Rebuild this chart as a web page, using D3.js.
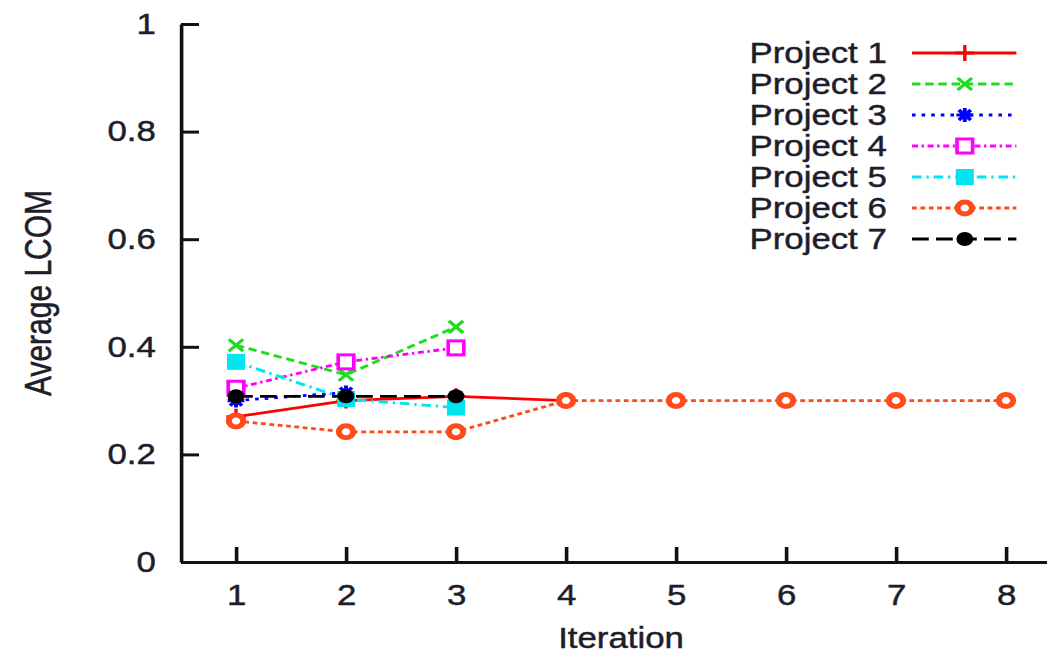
<!DOCTYPE html>
<html>
<head>
<meta charset="utf-8">
<script src="https://cdn.jsdelivr.net/npm/d3@7"></script>
<style>
  html, body { margin: 0; padding: 0; background: #fff; }
  svg { display: block; }
  text { font-family: "Liberation Sans", Arial, Helvetica, sans-serif; fill: #1d1d2b; stroke: #1d1d2b; stroke-width: 0.45px; }
</style>
</head>
<body>
<svg id="chart" width="1047" height="654"></svg>
<script>
// Average LCOM per iteration for each project
const iterations = [1, 2, 3, 4, 5, 6, 7, 8];
const projectNames = ["Project 1", "Project 2", "Project 3", "Project 4", "Project 5", "Project 6", "Project 7"];
const project1 = [0.27, 0.30, 0.308, 0.30];
const project2 = [0.403, 0.348, 0.437];
const project3 = [0.30, 0.315];
const project4 = [0.323, 0.372, 0.398];
const project5 = [0.372, 0.303, 0.287];
const project6 = [0.262, 0.242, 0.242, 0.30, 0.30, 0.30, 0.30, 0.30];
const project7 = [0.308, 0.308, 0.308];
const yTicks = [0, 0.2, 0.4, 0.6, 0.8, 1];
const yTickLabels = ["0", "0.2", "0.4", "0.6", "0.8", "1"];
const xLabel = "Iteration";
const yLabel = "Average LCOM";

const seriesValues = [project1, project2, project3, project4, project5, project6, project7];
const colors = ["#ff0000", "#1fdc1f", "#0000ff", "#ff00ff", "#00e5ee", "#ff4a1a", "#000000"];
const dashes = [null, "7,4", "3,5", "5,3,2,3", "8,4,2,4", "4,3", "14,6"];
const symbols = ["plus", "cross", "star", "openSquare", "filledSquare", "openCircle", "filledCircle"];

// The figure is laid out at a 4:3 base width and stretched horizontally.
const stretch = 1.2;
const svg = d3.select("#chart");
const root = svg.append("g").attr("transform", `scale(${stretch},1)`);

const x = d3.scaleLinear().domain([0.5, 8.5]).range([181 / stretch, 1061 / stretch]);
const y = d3.scaleLinear().domain([0, 1]).range([562, 24]);

// Axes (left and bottom border only, ticks pointing inward)
const yAxis = d3.axisLeft(y).tickValues(yTicks)
  .tickFormat((d, i) => yTickLabels[i]).tickSize(-15).tickSizeOuter(0).tickPadding(21);
const xAxis = d3.axisBottom(x).tickValues(iterations)
  .tickFormat(d3.format("d")).tickSize(-15).tickSizeOuter(0).tickPadding(22);

const gx = root.append("g").attr("transform", `translate(0,${y(0)})`).call(xAxis);
const gy = root.append("g").attr("transform", `translate(${x(0.5)},0)`).call(yAxis);
[gx, gy].forEach(g => {
  g.selectAll("path.domain").attr("stroke", "#111").attr("stroke-width", 3);
  g.selectAll(".tick line").attr("stroke", "#111").attr("stroke-width", 3);
  g.selectAll(".tick text").style("font-size", "29px").attr("fill", "#1d1d2b");
});

root.append("text")
  .attr("x", x(4.5)).attr("y", 648)
  .attr("text-anchor", "middle").style("font-size", "29px")
  .text(xLabel);
root.append("text")
  .attr("transform", `translate(${38 / stretch},${(y(0) + y(1)) / 2}) rotate(-90)`)
  .attr("text-anchor", "middle").attr("dy", "0.35em").style("font-size", "30px")
  .text(yLabel);

// Point symbols
function drawSymbol(g, kind, cx, cy, color) {
  const s = g.append("g").attr("transform", `translate(${cx},${cy})`);
  const sw = 2.8;
  if (kind === "plus") {
    s.append("path").attr("d", "M-8,0H8M0,-8V8").attr("stroke", color).attr("stroke-width", sw).attr("fill", "none");
  } else if (kind === "cross") {
    s.append("path").attr("d", "M-6,-6L6,6M-6,6L6,-6").attr("stroke", color).attr("stroke-width", 3).attr("fill", "none");
  } else if (kind === "star") {
    s.append("path").attr("d", "M-7,0H7M0,-7V7M-5,-5L5,5M-5,5L5,-5").attr("stroke", color).attr("stroke-width", 3.2).attr("fill", "none");
    s.append("rect").attr("x", -4).attr("y", -4).attr("width", 8).attr("height", 8).attr("fill", color);
  } else if (kind === "openSquare") {
    s.append("rect").attr("x", -6.5).attr("y", -7).attr("width", 13).attr("height", 14)
      .attr("fill", "#fff").attr("stroke", color).attr("stroke-width", 3);
  } else if (kind === "filledSquare") {
    s.append("rect").attr("x", -7.5).attr("y", -8).attr("width", 15).attr("height", 16).attr("fill", color);
  } else if (kind === "openCircle") {
    s.append("circle").attr("r", 6).attr("fill", "#fff").attr("stroke", color).attr("stroke-width", 5);
  } else if (kind === "filledCircle") {
    s.append("circle").attr("r", 7).attr("fill", color);
  }
}

const line = d3.line().x((d, i) => x(iterations[i])).y(d => y(d));
const plot = root.append("g");
seriesValues.forEach((vals, k) => {
  const g = plot.append("g");
  g.append("path").datum(vals).attr("d", line)
    .attr("fill", "none").attr("stroke", colors[k]).attr("stroke-width", 2.8)
    .attr("stroke-dasharray", dashes[k]);
  vals.forEach((v, i) => drawSymbol(g, symbols[k], x(iterations[i]), y(v), colors[k]));
});

// Legend
const legend = root.append("g");
const lx0 = 760, lx1 = 847, lxm = 804, ltext = 739;
projectNames.forEach((name, k) => {
  const ly = 53 + 31 * k;
  legend.append("text").attr("x", ltext).attr("y", ly).attr("dy", "0.35em")
    .attr("text-anchor", "end").style("font-size", "29px").text(name);
  legend.append("line").attr("x1", lx0).attr("x2", lx1).attr("y1", ly).attr("y2", ly)
    .attr("stroke", colors[k]).attr("stroke-width", 2.8).attr("stroke-dasharray", dashes[k]);
  drawSymbol(legend, symbols[k], lxm, ly, colors[k]);
});
</script>
</body>
</html>
